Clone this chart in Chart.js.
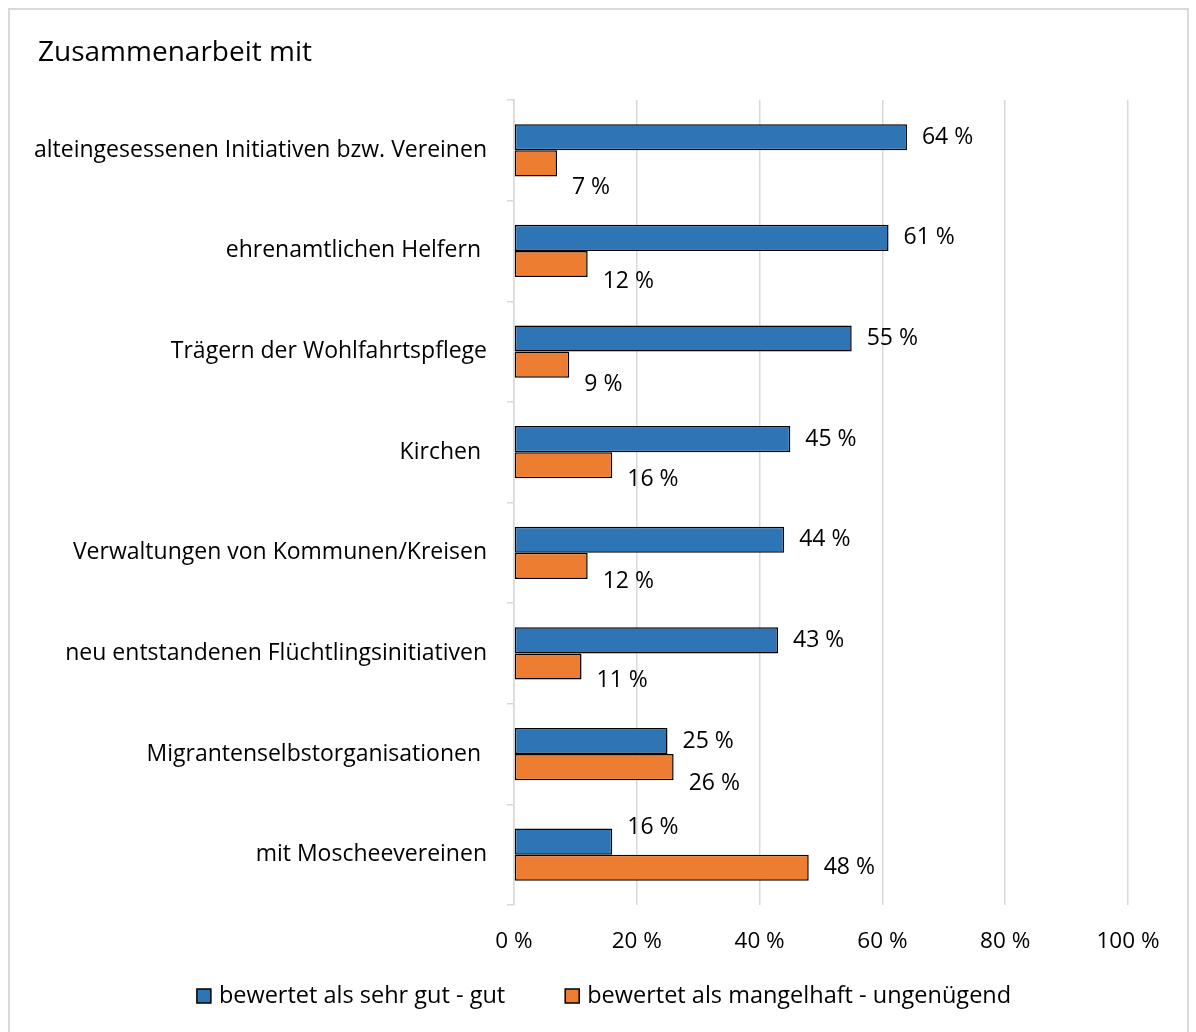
<!DOCTYPE html>
<html>
<head>
<meta charset="utf-8">
<script src="https://cdn.jsdelivr.net/npm/chart.js@4.4.1/dist/chart.umd.min.js"></script>
<style>
  html, body { margin: 0; padding: 0; background: #fff; }
  #wrap { position: relative; width: 1196px; height: 1032px; }
  #frame { position: absolute; left: 8px; top: 8px; width: 1181px; height: 1040px; border: 2px solid #d9d9d9; box-sizing: border-box; }
  canvas { position: absolute; left: 0; top: 0; }
</style>
</head>
<body>
<div id="wrap">
  <div id="frame"></div>
  <canvas id="chart" width="1196" height="1032"></canvas>
</div>
<script>
const chartTitle = "Zusammenarbeit mit";
const categories = [
  "alteingesessenen Initiativen bzw. Vereinen",
  "ehrenamtlichen Helfern ",
  "Trägern der Wohlfahrtspflege",
  "Kirchen ",
  "Verwaltungen von Kommunen/Kreisen",
  "neu entstandenen Flüchtlingsinitiativen",
  "Migrantenselbstorganisationen ",
  "mit Moscheevereinen"
];
const gutValues = [64, 61, 55, 45, 44, 43, 25, 16];
const mangelhaftValues = [7, 12, 9, 16, 12, 11, 26, 48];
const seriesNames = ["bewertet als sehr gut - gut", "bewertet als mangelhaft - ungenügend"];
const xTicks = [0, 20, 40, 60, 80, 100];

const FONT = "'Open Sans', sans-serif";

// vertical nudges of the value labels, as placed in the original
const labelShift = [
  [0, 0, 0, 0, 0, 0, 0, -14],
  [24, 17, 20, 14, 16, 14, 16, 0]
];

const valueLabels = {
  id: "valueLabels",
  afterDatasetsDraw(chart) {
    const ctx = chart.ctx;
    ctx.save();
    ctx.font = "23px " + FONT;
    ctx.fillStyle = "#000";
    ctx.textAlign = "left";
    ctx.textBaseline = "middle";
    chart.data.datasets.forEach((ds, i) => {
      chart.getDatasetMeta(i).data.forEach((bar, j) => {
        ctx.fillText(ds.data[j] + " %", bar.x + 15, bar.y + labelShift[i][j]);
      });
    });
    ctx.restore();
  }
};

// title at the top left, legend along the bottom
const titleAndLegend = {
  id: "titleAndLegend",
  afterDraw(chart) {
    const ctx = chart.ctx;
    ctx.save();
    ctx.fillStyle = "#000";
    ctx.textBaseline = "middle";
    ctx.font = "28px " + FONT;
    ctx.fillText(chartTitle, 38, 53);

    ctx.font = "23.5px " + FONT;
    const box = 14, gapText = 8, gapItem = 60;
    const items = chart.data.datasets.map(ds => ({
      text: ds.label, color: ds.backgroundColor, w: box + gapText + ctx.measureText(ds.label).width
    }));
    const total = items.reduce((s, it) => s + it.w, 0) + gapItem * (items.length - 1);
    let x = 604 - total / 2;
    const y = 996;
    items.forEach(it => {
      ctx.fillStyle = it.color;
      ctx.fillRect(x, y - box / 2, box, box);
      ctx.strokeStyle = "#000";
      ctx.lineWidth = 1.5;
      ctx.strokeRect(x, y - box / 2, box, box);
      ctx.fillStyle = "#000";
      ctx.fillText(it.text, x + box + gapText, y);
      x += it.w + gapItem;
    });
    ctx.restore();
  }
};

new Chart(document.getElementById("chart"), {
  type: "bar",
  data: {
    labels: categories,
    datasets: [
      {
        label: seriesNames[0],
        data: gutValues,
        backgroundColor: "#2e75b6",
        borderColor: "#000",
        borderWidth: 1.5,
        borderSkipped: false,
        categoryPercentage: 0.52,
        barPercentage: 1.0
      },
      {
        label: seriesNames[1],
        data: mangelhaftValues,
        backgroundColor: "#ed7d31",
        borderColor: "#000",
        borderWidth: 1.5,
        borderSkipped: false,
        categoryPercentage: 0.52,
        barPercentage: 1.0
      }
    ]
  },
  options: {
    indexAxis: "y",
    responsive: false,
    animation: false,
    layout: { padding: { left: 14, right: 68, top: 100, bottom: 56 } },
    plugins: {
      legend: { display: false },
      tooltip: { enabled: false },
      title: { display: false }
    },
    scales: {
      x: {
        min: 0,
        max: 100,
        afterBuildTicks(scale) {
          scale.ticks = xTicks.map(v => ({ value: v }));
        },
        afterFit(scale) { scale.height = 71; },
        grid: { color: "#d9d9d9", lineWidth: 1.5, drawTicks: false },
        border: { display: false },
        ticks: {
          padding: 23,
          color: "#000",
          font: { family: FONT, size: 22.5 },
          callback: v => v + " %"
        }
      },
      y: {
        afterFit(scale) { scale.width = 500; },
        grid: {
          color: "#d9d9d9",
          lineWidth: 1.5,
          drawOnChartArea: false,
          drawTicks: true,
          tickLength: 7
        },
        border: { display: true, color: "#d9d9d9", width: 1.5 },
        ticks: {
          padding: 20,
          color: "#000",
          font: { family: FONT, size: 23 }
        }
      }
    }
  },
  plugins: [valueLabels, titleAndLegend]
});
</script>
</body>
</html>
